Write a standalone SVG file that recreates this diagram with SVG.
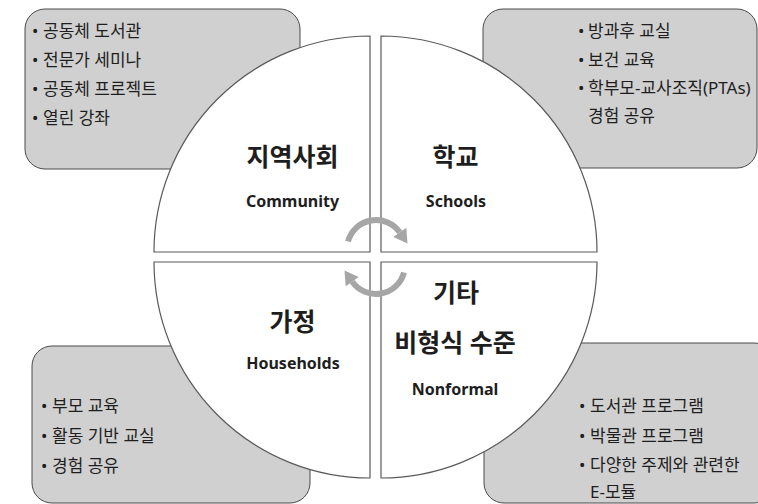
<svg xmlns="http://www.w3.org/2000/svg" width="758" height="504" viewBox="0 0 758 504">
<defs>
<style>
.box{fill:#d0d0d0;stroke:#4a4a4a;stroke-width:1}
.quad{fill:#ffffff;stroke:#5a5a5a;stroke-width:1.2}
.t{font-family:"Noto Sans","Noto Sans CJK KR",sans-serif;fill:#1e1e1e}
.item{font-size:17px}
.ttl{font-size:25px;font-weight:bold;text-anchor:middle}
.en{font-size:16px;font-weight:bold;text-anchor:middle}
.arc{fill:none;stroke:#a6a6a6;stroke-width:6}
.head{fill:#a6a6a6}
</style>
</defs>
<rect width="758" height="504" fill="#ffffff"/>

<g id="box-community">
<rect class="box" x="25" y="9" width="275" height="160" rx="20"/>
<text class="t item" y="37"><tspan x="32">•</tspan><tspan x="43">공동체 도서관</tspan></text>
<text class="t item" y="66"><tspan x="32">•</tspan><tspan x="43">전문가 세미나</tspan></text>
<text class="t item" y="95"><tspan x="32">•</tspan><tspan x="43">공동체 프로젝트</tspan></text>
<text class="t item" y="124"><tspan x="32">•</tspan><tspan x="43">열린 강좌</tspan></text>
</g>
<g id="box-schools">
<rect class="box" x="483" y="9" width="274" height="159" rx="20"/>
<text class="t item" y="37"><tspan x="578">•</tspan><tspan x="588">방과후 교실</tspan></text>
<text class="t item" y="66"><tspan x="578">•</tspan><tspan x="588">보건 교육</tspan></text>
<text class="t item" y="94"><tspan x="578">•</tspan><tspan x="588">학부모-교사조직(PTAs)</tspan></text>
<text class="t item" y="122"><tspan x="588">경험 공유</tspan></text>
</g>
<g id="box-households">
<rect class="box" x="32" y="346" width="278" height="157" rx="20"/>
<text class="t item" y="412"><tspan x="41">•</tspan><tspan x="52">부모 교육</tspan></text>
<text class="t item" y="442"><tspan x="41">•</tspan><tspan x="52">활동 기반 교실</tspan></text>
<text class="t item" y="472"><tspan x="41">•</tspan><tspan x="52">경험 공유</tspan></text>
</g>
<g id="box-nonformal">
<rect class="box" x="484" y="343" width="290" height="160" rx="20"/>
<text class="t item" y="412"><tspan x="579">•</tspan><tspan x="590">도서관 프로그램</tspan></text>
<text class="t item" y="442"><tspan x="579">•</tspan><tspan x="590">박물관 프로그램</tspan></text>
<text class="t item" y="471"><tspan x="579">•</tspan><tspan x="590">다양한 주제와 관련한</tspan></text>
<text class="t item" y="498"><tspan x="590">E-모듈</tspan></text>
</g>

<g id="community">
<path class="quad" d="M370 252 L154 252 A216 216 0 0 1 370 36 Z"/>
<text class="t ttl" x="292.5" y="166">지역사회</text>
<text class="t en" x="292.5" y="207">Community</text>
</g>
<g id="schools">
<path class="quad" d="M381 252 L381 36 A216 216 0 0 1 597 252 Z"/>
<text class="t ttl" x="455.5" y="166">학교</text>
<text class="t en" x="456" y="207">Schools</text>
</g>
<g id="households">
<path class="quad" d="M370 262 L370 478 A216 216 0 0 1 154 262 Z"/>
<text class="t ttl" x="292.5" y="331">가정</text>
<text class="t en" x="293" y="369">Households</text>
</g>
<g id="nonformal">
<path class="quad" d="M381 262 L597 262 A216 216 0 0 1 381 478 Z"/>
<text class="t ttl" x="456" y="302">기타</text>
<text class="t ttl" x="455" y="352">비형식 수준</text>
<text class="t en" x="455" y="395">Nonformal</text>
</g>

<g id="connectors">
<g id="cycle-top">
<path class="arc" d="M348 241.5 A29 29 0 0 1 399.8 232.4"/>
<polygon class="head" points="406.3,227.8 393.3,237 407.5,243.5"/>
</g>
<g id="cycle-bottom" transform="rotate(180 376 257)">
<path class="arc" d="M348 241.5 A29 29 0 0 1 399.8 232.4"/>
<polygon class="head" points="406.3,227.8 393.3,237 407.5,243.5"/>
</g>
</g>
</svg>
